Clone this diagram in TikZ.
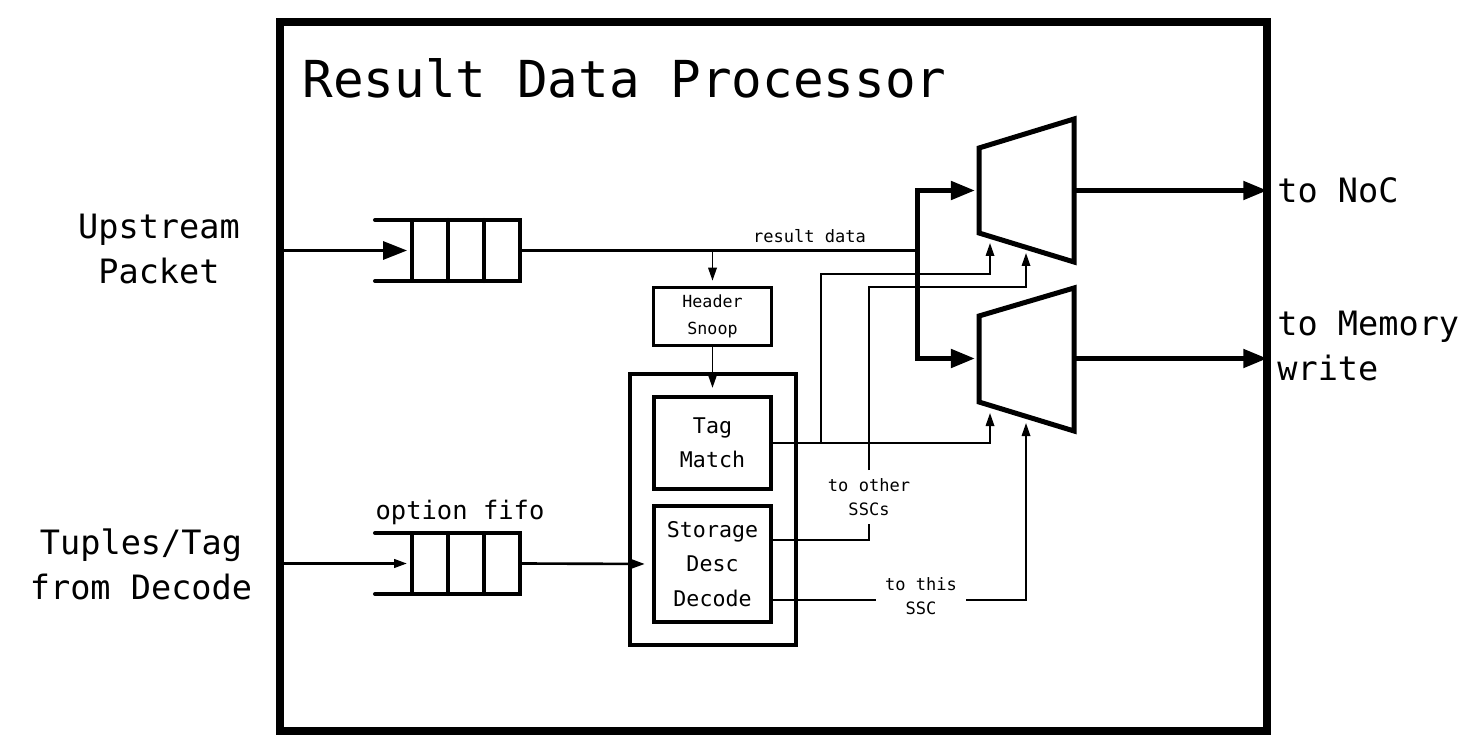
\documentclass[tikz,border=0pt]{standalone}
\usepackage{fontspec}
\setmainfont{DejaVu Sans Mono}
\usetikzlibrary{arrows.meta,calc}

\begin{document}
\begin{tikzpicture}[
        x=0.02cm, y=-0.02cm,
        frame/.style={draw, line width=4.5pt, minimum width=19.74cm,
            minimum height=14.18cm, inner sep=0pt},
        title/.style={font=\fontsize{29}{35}\selectfont, anchor=base west, inner sep=0pt},
        port/.style={font=\fontsize{19.1}{25.6}\selectfont, inner sep=0pt},
        fifo/.style={draw, line width=2.3pt, minimum width=2.16cm,
            minimum height=1.22cm, inner sep=0pt, outer sep=0pt},
        fifo edge/.style={line width=2.3pt, line cap=round},
        block/.style={draw, line width=2.3pt, inner sep=0pt, align=center,
            font=\fontsize{12.3}{19.6}\selectfont},
        snoop/.style={draw, line width=1.7pt, inner sep=0pt, align=center,
            font=\fontsize{9.5}{15.4}\selectfont},
        note/.style={font=\fontsize{9.7}{13.7}\selectfont, align=center,
            fill=white, inner xsep=2pt, inner ysep=4.5pt},
        data/.style={line width=1.7pt},
        data arrow/.style={line width=2pt, -{Triangle[length=13.7pt,width=10.2pt]}},
        wide/.style={line width=2.85pt, line join=miter},
        wide arrow/.style={wide, -{Triangle[length=13.7pt,width=10.2pt]}},
        wire/.style={line width=1.1pt},
        ctrl/.style={wire, -{Triangle[length=7.4pt,width=4.8pt]}},
    ]
    \useasboundingbox (0,0) rectangle (1479,756);

    % outer block
    \node[frame] (rdp) at (773.5,376.5) {};
    \node[title] (ttl) at (302,98) {Result Data Processor};

    % fifos
    \foreach \q/\yc in {upq/250.5, optq/563.5}{
        \node[fifo] (\q) at (466,\yc) {};
        \draw[fifo edge] (\q.north west) -- ++(-37,0)
                         (\q.south west) -- ++(-37,0);
        \draw[fifo edge] (\q.north west) ++(36,0) -- ++(0,61)
                         (\q.north west) ++(72,0) -- ++(0,61);
    }
    \node[font=\fontsize{14.5}{17}\selectfont, anchor=base, inner sep=0pt]
        (optl) at (460,519) {option fifo};

    % ports
    \node[port, align=center] (upin) at (159,249) {Upstream\\Packet};
    \node[port, align=center] (tupin) at (141,564) {Tuples/Tag\\from Decode};
    \node[port, anchor=west, align=left] (noc) at (1277,190.5) {to NoC};
    \node[port, anchor=west, align=left] (mem) at (1277,346) {to Memory\\write};

    \draw[data arrow, shorten >=2.8pt] (rdp.west |- upq.west) -- (upq.west);
    \draw[ctrl, line width=1.5pt, shorten >=2.8pt] (rdp.west |- optq.west) -- (optq.west);

    % tag logic
    \node[draw, line width=2.3pt, minimum width=3.32cm, minimum height=5.42cm]
        (tagu) at (713,509.5) {};
    \node[snoop, minimum width=2.36cm, minimum height=1.16cm] (hs) at (712.5,316.5)
        {Header\\Snoop};
    \node[block, minimum width=2.34cm, minimum height=1.84cm] (tagm) at (712.5,443)
        {Tag\\Match};
    \node[block, minimum width=2.34cm, minimum height=2.32cm] (sdd) at (712.5,564)
        {Storage\\Desc\\Decode};

    % muxes
    \draw[wide] (979,148) -- (1074,119) -- (1074,262) -- (979,233) -- cycle;
    \draw[wide] (979,316) -- (1074,288) -- (1074,431) -- (979,402) -- cycle;
    \coordinate (m1in) at (975,190.5);
    \coordinate (m2in) at (975,358.5);
    \coordinate (m1a) at (990,243);
    \coordinate (m1b) at (1026,253);
    \coordinate (m2a) at (990,413);
    \coordinate (m2b) at (1026,423);
    \coordinate (out1) at (1074,190.5);
    \coordinate (out2) at (1074,358.5);

    % data path
    \coordinate (jn) at (917,250.5);
    \draw[data] (upq.east) -- (jn);
    \node[font=\fontsize{9.7}{12}\selectfont, anchor=base, inner sep=0pt]
        (rdl) at (809.5,242.5) {result data};
    \draw[wide arrow] (jn) |- (m1in);
    \draw[wide arrow] (jn) |- (m2in);
    \draw[wide arrow, shorten >=2pt] (out1) -- (rdp.east |- out1);
    \draw[wide arrow, shorten >=2pt] (out2) -- (rdp.east |- out2);

    \draw[ctrl, shorten >=3pt] (hs.north |- jn) -- (hs.north);
    \draw[ctrl, shorten >=4pt] (hs.south) -- (tagm.north);
    \draw[ctrl, line width=1.5pt, shorten >=4pt] (optq.east) -- (sdd.west);

    % select lines
    \coordinate (tmsplit) at (821,443);
    \draw[ctrl] (tagm.east) -| (m2a);
    \draw[ctrl] (tmsplit) |- (990,274) -- (m1a);

    \node[note] (oth) at (869,497) {to other\\SSCs};
    \node[note, inner xsep=5pt] (ths) at (921,596) {to this\\SSC};
    \coordinate (sddo) at (771,540);
    \coordinate (sddt) at (771,600);
    \draw[wire] (sddo) -| (oth.south);
    \draw[ctrl] (oth.north) |- (1026,287) -- (m1b);
    \draw[wire] (sddt) -- (sddt -| ths.west);
    \draw[ctrl] (sddt -| ths.east) -| (m2b);

\end{tikzpicture}
\end{document}
